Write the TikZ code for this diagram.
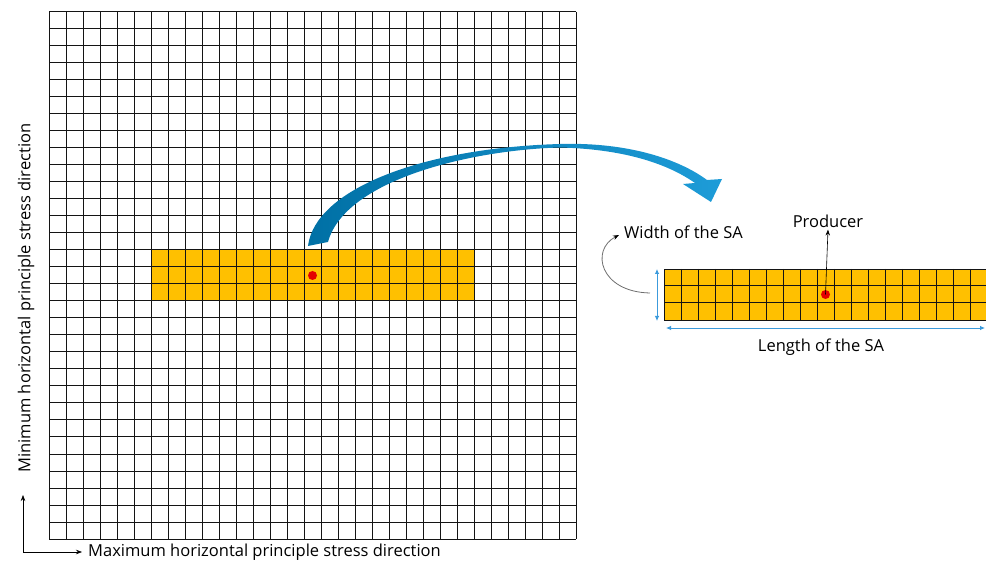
\documentclass[tikz,border=0pt]{standalone}
\usepackage{fontspec}
\setmainfont{Open Sans}
\usetikzlibrary{arrows.meta, positioning, calc}
\definecolor{mygold}{RGB}{255,192,0}
\definecolor{myred}{RGB}{228,0,0}
\definecolor{mydark}{RGB}{20,20,20}
\definecolor{myblue}{RGB}{60,155,220}
\definecolor{deepblue}{RGB}{0,112,165}
\definecolor{lightblue}{RGB}{30,156,216}
\definecolor{mygray}{RGB}{110,110,110}
\tikzset{
  gridline/.style={line width=1pt, color=mydark},
  dot/.style={circle, fill=myred, inner sep=0pt, minimum size=9pt},
  txt/.style={font=\fontsize{16.5}{19}\selectfont, inner sep=2pt},
  arrow/.style={-{Stealth[length=6pt, width=4.5pt, black]}, line width=0.6pt, color=black},
  grayarrow/.style={-{Stealth[length=6pt, width=4.5pt, black]}, line width=0.8pt, color=mygray},
  axisarrow/.style={{Stealth[length=6pt, width=4.5pt]}-{Stealth[length=6pt, width=4.5pt]}, line width=0.6pt, color=black},
  dimarrow/.style={{Latex[length=5pt, width=4.5pt]}-{Latex[length=5pt, width=4.5pt]}, line width=0.8pt, color=myblue}
}

\begin{document}
\begin{tikzpicture}[x=1pt, y=-1pt]
  \useasboundingbox (0,0) rectangle (986,561);

  % field grid with stimulated area
  \node[fill=mygold, minimum width=323pt, minimum height=51pt, inner sep=0pt,
    anchor=north west] (band) at (151,250) {};
  \foreach \i in {0,...,31} {
    \draw[gridline] (49+\i*17,12) -- (49+\i*17,539);
    \draw[gridline] (49,12+\i*17) -- (576,12+\i*17);
  }
  \node[dot] (dot1) at (312.5,275.5) {};

  % enlarged stimulated area
  \node[fill=mygold, draw=mydark, line width=1pt, minimum width=323pt,
    minimum height=51pt, inner sep=0pt, anchor=north west] (strip) at (664,269) {};
  \foreach \i in {1,...,18}
    \draw[gridline] (664+\i*17,269) -- (664+\i*17,320);
  \foreach \j in {1,2}
    \draw[gridline] (664,269+\j*17) -- (987,269+\j*17);
  \node[dot] (dot2) at (825.5,294.5) {};

  % curved blue arrow
  \shade[left color=deepblue, right color=lightblue]
    (308,246) .. controls (315,190) and (420,148) .. (560,144)
    .. controls (630,142) and (680,160) .. (707,180)
    -- (722,179) -- (711,202) -- (683,184) -- (695,183)
    .. controls (665,162) and (620,149) .. (560,147.5)
    .. controls (470,150) and (345,180) .. (328,242) -- cycle;

  % labels of the stimulated area
  \node[txt] (prod) at (828,221) {Producer};
  \node[txt, anchor=west] (wid) at (622,232) {Width of the SA};
  \node[txt] (len) at (821,347) {Length of the SA};
  \draw[arrow] (dot2.center) -- (prod.south);
  \coordinate (wfrom) at (650,293);
  \draw[grayarrow] (wfrom) .. controls (600,292) and (590,250) .. ([xshift=-3pt, yshift=-3pt]wid.west);
  \draw[dimarrow] ([xshift=-7pt]strip.north west) -- ([xshift=-7pt]strip.south west);
  \draw[dimarrow] ([xshift=2pt, yshift=-7pt]strip.south west) -- ([xshift=-3pt, yshift=-7pt]strip.south east);

  % stress directions
  \node[txt, anchor=west] (xlab) at (86,552) {Maximum horizontal principle stress direction};
  \node[txt, rotate=90] (ylab) at (26,298) {Minimum horizontal principle stress direction};
  \coordinate (ytip) at (23,495);
  \draw[axisarrow, shorten >=4pt] (ytip) |- (xlab.west);
\end{tikzpicture}
\end{document}
